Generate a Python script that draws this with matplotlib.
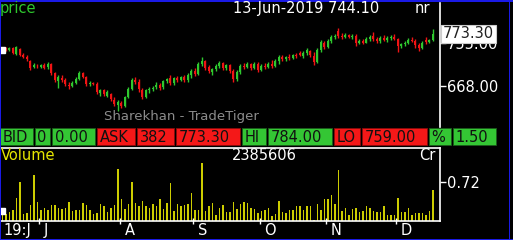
import matplotlib
matplotlib.use("Agg")
import matplotlib.pyplot as plt
from matplotlib.patches import Rectangle
import matplotlib.transforms as mtransforms

# ---------------- data ----------------
opens = [738, 742, 741, 744, 733, 742, 731, 727, 718, 707, 709, 706, 711, 706, 712, 694,
         678, 684, 680, 670, 668, 674, 683, 694, 687, 672, 675, 673, 654, 659, 648, 652,
         640, 630, 634, 628, 645, 662, 680, 676, 660, 646, 660, 662, 666, 670, 665, 678,
         684, 674, 684, 680, 686, 680, 690, 698, 692, 712, 718, 706, 696, 702, 708, 714,
         704, 710, 698, 682, 696, 708, 706, 712, 704, 712, 700, 708, 706, 712, 708, 718,
         726, 722, 726, 724, 730, 734, 728, 734, 738, 728, 716, 740, 756, 746, 760, 768, 780,
         770, 768, 772, 768, 770, 756, 760, 756, 764, 770, 764, 760, 766, 762, 766, 768,
         764, 748, 752, 756, 762, 760, 750, 744, 762, 758, 762]
highs = [744, 746, 746, 746, 748, 744, 735, 730, 721, 715, 712, 712, 714, 716, 714, 697,
         690, 690, 684, 676, 678, 686, 698, 697, 689, 678, 677, 676, 662, 661, 660, 654,
         646, 640, 637, 648, 665, 684, 686, 682, 664, 662, 666, 668, 676, 674, 680, 684,
         690, 686, 688, 688, 690, 694, 702, 704, 716, 726, 720, 710, 704, 712, 718, 716,
         712, 712, 702, 700, 712, 714, 716, 714, 716, 716, 712, 714, 716, 720, 722, 730,
         730, 728, 732, 732, 734, 738, 738, 744, 740, 736, 744, 762, 760, 764, 772, 774, 786,
         776, 776, 774, 774, 774, 764, 764, 768, 772, 778, 768, 770, 772, 770, 772, 774,
         766, 756, 760, 766, 768, 764, 756, 760, 768, 764, 784]
lows = [736, 739, 739, 733, 731, 728, 725, 719, 700, 704, 705, 704, 702, 703, 690, 677,
        664, 676, 668, 662, 665, 672, 680, 684, 668, 668, 670, 652, 648, 648, 645, 638,
        628, 618, 624, 626, 643, 660, 672, 656, 641, 644, 654, 658, 662, 660, 662, 674,
        670, 670, 676, 678, 676, 676, 684, 688, 690, 708, 700, 694, 690, 698, 704, 700,
        700, 694, 676, 678, 692, 702, 704, 700, 702, 696, 698, 702, 704, 704, 706, 712,
        718, 718, 720, 722, 724, 728, 724, 730, 726, 710, 714, 736, 742, 744, 756, 764, 766,
        764, 766, 766, 764, 748, 752, 752, 754, 760, 760, 756, 756, 760, 758, 762, 762,
        736, 744, 748, 752, 758, 744, 738, 742, 752, 754, 759]
closes = [741, 741, 745, 735, 746, 731, 727, 723, 705, 711, 708, 710, 705, 712, 694, 680,
          687, 680, 672, 668, 675, 683, 694, 687, 672, 675, 672, 656, 659, 651, 656, 642,
          632, 636, 628, 645, 662, 680, 676, 661, 646, 660, 662, 664, 670, 664, 678, 682,
          674, 684, 680, 686, 680, 690, 698, 692, 712, 718, 704, 698, 702, 708, 714, 704,
          710, 698, 682, 696, 708, 706, 712, 704, 712, 700, 708, 706, 712, 708, 718, 726,
          722, 726, 724, 730, 728, 731, 734, 740, 730, 716, 740, 758, 746, 760, 768, 770, 770,
          768, 772, 768, 770, 756, 760, 756, 764, 768, 764, 760, 766, 762, 766, 768, 764,
          748, 752, 756, 762, 760, 750, 744, 756, 758, 762, 773.30]
volumes = [0.13, 0.13, 0.16, 0.20, 0.42, 0.73, 0.13, 0.15, 0.30, 0.86, 0.35, 0.20, 0.24,
           0.20, 0.30, 0.30, 0.24, 0.22, 0.24, 0.35, 0.19, 0.20, 0.20, 0.33, 0.30, 0.20,
           0.13, 0.15, 0.32, 0.28, 0.17, 0.25, 0.30, 0.97, 0.41, 0.22, 0.32,
           0.73, 0.33, 0.27, 0.38, 0.27, 0.25, 0.31, 0.28, 0.40, 0.22, 0.33, 0.70, 0.19,
           0.31, 0.28, 0.30, 0.31, 0.52, 0.20, 0.20, 1.08, 0.19, 0.28, 0.33, 0.11, 0.25,
           0.30, 0.16, 0.16, 0.35, 0.22, 0.31, 0.35, 0.33, 0.25, 0.22,
           0.15, 0.18, 0.20, 0.25, 0.10, 0.13, 0.37, 0.17, 0.14, 0.20, 0.20, 0.28, 0.27,
           0.20, 0.27, 0.27, 0.02, 0.32, 0.20, 0.41, 0.41, 0.48, 0.32, 0.94, 0.19, 0.24,
           0.11, 0.22, 0.24, 0.17, 0.19, 0.27, 0.24, 0.19, 0.17, 0.17, 0.28, 0.12, 0.11,
           0.12, 0.43, 0.17, 0.17, 0.25, 0.11, 0.14, 0.15, 0.15, 0.12, 0.19, 0.58]

month_start_idx = [11, 34, 55, 74, 93, 113]
month_labels = ["J", "A", "S", "O", "N", "D"]
first_label = "19:J"
price_ticks = [668.00, 755.00]
volume_ticks = [0.72]
last_price = 773.30
header_date = "13-Jun-2019 744.10"
header_unit = "nr"
volume_total = "2385606"
volume_unit = "Cr"
info_labels = ["BID", "0", "0.00", "ASK", "382", "773.30", "HI", "784.00", "LO",
               "759.00", "%", "1.50"]
watermark = "Sharekhan - TradeTiger"

# ---------------- style ----------------
W, H = 513, 240
BG = "black"
GREEN = "#2ec82e"
RED = "#f01414"
CELL_GREEN = "#34c634"
CELL_RED = "#f41818"
VOL_COL = "#cccc00"
BLUE = "#1a1ae6"
FS = 10.5

plt.rcParams["font.family"] = ["DejaVu Sans"]
fig = plt.figure(figsize=(W / 100, H / 100), dpi=100, facecolor=BG)


def fx(px):
    return px / W


def fy(py):
    return 1 - py / H


n = len(closes)
xs = list(range(n))
STEP = 3.5
x_lo = (1 - 2.3) / STEP
x_hi = (440 - 2.3) / STEP

# ---- price axes ----
ax = fig.add_axes([fx(1), fy(127), fx(439), (127 - 3) / H], facecolor=BG)
for i in xs:
    o, h, l, c = opens[i], highs[i], lows[i], closes[i]
    col = GREEN if c >= o else RED
    ax.vlines(i, l, h, color=col, linewidth=1.0)
    ax.bar(i, abs(c - o) if abs(c - o) > 0.8 else 0.8, bottom=min(o, c), width=0.62,
           color=col, linewidth=0)
ax.set_xlim(x_lo, x_hi)
p_top = 755 + 40 * 2.023
p_bot = 755 - 84 * 2.023
ax.set_ylim(p_bot, p_top)
for s in ["left", "top", "bottom"]:
    ax.spines[s].set_visible(False)
ax.spines["right"].set_color("white")
ax.spines["right"].set_linewidth(1.2)
ax.set_xticks([])
ax.yaxis.tick_right()
ax.set_yticks(price_ticks)
ax.set_yticklabels([f"{v:.2f}" for v in price_ticks])
ax.tick_params(axis="y", colors="white", labelcolor="white", length=4, width=1,
               pad=1, labelsize=FS)
ax.plot([x_lo + 0.25], [closes[0]], marker="s", color="white", markersize=4,
        clip_on=False)
ax.text(0.41, 0.085, watermark, transform=ax.transAxes, color="#8c8c8c",
        fontsize=9.5, ha="center", va="center")
ax.text(1.007, last_price, f"{last_price:.2f}", transform=ax.get_yaxis_transform(),
        color="#202020", fontsize=FS, ha="left", va="center",
        bbox=dict(boxstyle="square,pad=0.12", fc="white", ec="#cccccc", lw=0.8),
        zorder=10, clip_on=False)

# ---- volume axes ----
av = fig.add_axes([fx(1), fy(221), fx(439), (221 - 148) / H], facecolor=BG)
av.bar(xs, volumes, width=0.45, color=VOL_COL, linewidth=0)
av.set_xlim(x_lo, x_hi)
av.set_ylim(0, 73 * 0.0186)
av.spines["left"].set_visible(False)
for s in ["top", "right", "bottom"]:
    av.spines[s].set_color("white")
    av.spines[s].set_linewidth(1.2)
av.yaxis.tick_right()
av.set_yticks(volume_ticks)
av.set_yticklabels([f"{v:.2f}" for v in volume_ticks])
av.tick_params(axis="y", colors="white", labelcolor="white", length=4, width=1,
               pad=1, labelsize=FS)
tick_pos = [m - 0.5 for m in month_start_idx]
av.set_xticks(tick_pos)
av.set_xticklabels([])
av.tick_params(axis="x", colors="white", direction="inout", length=5, width=1)
av.plot([x_lo + 0.25], [volumes[0] * 1.5], marker="s", color="white", markersize=4,
        clip_on=False)
lab_tr = mtransforms.offset_copy(av.get_xaxis_transform(), fig=fig, x=5, y=0,
                                 units="dots")
for p, lab in zip(tick_pos, month_labels):
    av.text(p, -0.13, lab, transform=lab_tr, color="white", fontsize=FS,
            ha="left", va="center")
av.text(x_lo, -0.13, first_label, transform=mtransforms.offset_copy(
    av.get_xaxis_transform(), fig=fig, x=2, y=0, units="dots"),
    color="white", fontsize=FS, ha="left", va="center")

# ---- header texts ----
fig.text(fx(0), fy(8.5), "price", color=GREEN, fontsize=FS, ha="left", va="center")
fig.text(fx(233), fy(8.5), header_date, color="white", fontsize=FS, ha="left",
         va="center")
fig.text(fx(415), fy(8.5), header_unit, color="white", fontsize=FS, ha="left",
         va="center")
fig.text(fx(1), fy(155.5), "Volume", color="#e6e600", fontsize=FS, ha="left",
         va="center")
fig.text(fx(232), fy(155.5), volume_total, color="white", fontsize=FS, ha="left",
         va="center")
fig.text(fx(436), fy(155.5), volume_unit, color="white", fontsize=FS, ha="right",
         va="center")

# ---- info bar ----
cells = [(0, 33), (35, 50), (52, 95), (97, 135), (137, 174), (176, 240),
         (242, 266), (268, 332), (334, 360), (362, 427), (429, 451), (453, 496)]
cell_cols = [CELL_GREEN, CELL_GREEN, CELL_GREEN, CELL_RED, CELL_RED, CELL_RED,
             CELL_GREEN, CELL_GREEN, CELL_RED, CELL_RED, CELL_GREEN, CELL_GREEN]
y0, y1 = 128, 145
for (a, b), col, lab in zip(cells, cell_cols, info_labels):
    fig.patches.append(Rectangle((fx(a), fy(y1)), fx(b - a), (y1 - y0) / H,
                                 transform=fig.transFigure, facecolor=col,
                                 edgecolor="#1a5a1a" if col == CELL_GREEN else "#8a0a0a",
                                 linewidth=0.6))
    fig.text(fx(a + 2.5), fy((y0 + y1) / 2 + 0.5), lab, color="#111111",
             fontsize=FS, ha="left", va="center")

# ---- blue frame ----
fig.patches.append(Rectangle((0, fy(2)), 1, 2 / H, transform=fig.transFigure,
                             facecolor=BLUE, linewidth=0))
fig.patches.append(Rectangle((0, 0), fx(1.2), 1, transform=fig.transFigure,
                             facecolor=BLUE, linewidth=0))
fig.patches.append(Rectangle((fx(508.5), 0), fx(1.5), 1, transform=fig.transFigure,
                             facecolor=BLUE, linewidth=0))
fig.patches.append(Rectangle((0, 0), 1, 1.5 / H, transform=fig.transFigure,
                             facecolor=BLUE, linewidth=0))

fig.savefig("out.png", dpi=100, facecolor=BG)
